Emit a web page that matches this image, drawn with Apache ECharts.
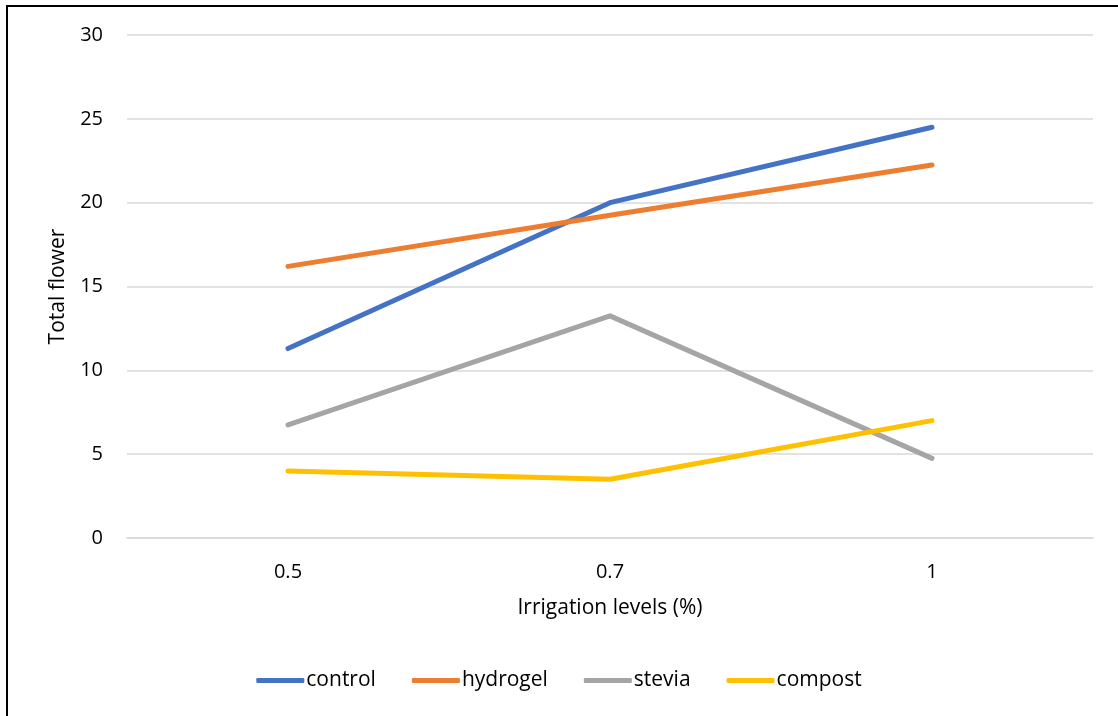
<!DOCTYPE html>
<html><head><meta charset="utf-8">
<script src="https://cdn.jsdelivr.net/npm/echarts@6/dist/echarts.min.js"></script>
<style>
html,body{margin:0;padding:0;background:#fff;}
#frame{position:absolute;left:6px;top:5px;width:1200px;height:800px;border-left:2px solid #000;border-top:2px solid #000;}
#chart{position:absolute;left:0;top:0;width:1118px;height:716px;}
</style></head>
<body>
<div id="frame"></div>
<div id="chart"></div>
<script>
const categories = ['0.5', '0.7', '1'];
const control = [11.3, 20.0, 24.5];
const hydrogel = [16.2, 19.25, 22.25];
const stevia = [6.75, 13.25, 4.75];
const compost = [4.0, 3.5, 7.0];
const seriesNames = ['control', 'hydrogel', 'stevia', 'compost'];
const seriesData = [control, hydrogel, stevia, compost];
const colors = ['#4472C4', '#ED7D31', '#A5A5A5', '#FFC000'];

const font = '"Open Sans", sans-serif';
const chart = echarts.init(document.getElementById('chart'));
chart.setOption({
  animation: false,
  color: colors,
  grid: {left: 127, right: 25, top: 35, bottom: 178, containLabel: false},
  legend: {
    bottom: 20, left: 'center',
    icon: 'roundRect', itemWidth: 48, itemHeight: 5, itemGap: 36,
    textStyle: {fontFamily: font, fontSize: 21, color: '#000', padding: [0, 0, 0, -3]},
    data: seriesNames
  },
  xAxis: {
    type: 'category', data: categories, boundaryGap: true,
    name: 'Irrigation levels (%)', nameLocation: 'middle', nameGap: 60,
    nameTextStyle: {fontFamily: font, fontSize: 21, color: '#000'},
    axisLine: {show: true, lineStyle: {color: '#d9d9d9', width: 1.5}},
    axisTick: {show: false},
    axisLabel: {fontFamily: font, fontSize: 20, color: '#000', margin: 24}
  },
  yAxis: {
    type: 'value', min: 0, max: 30, interval: 5,
    name: 'Total flower', nameLocation: 'middle', nameGap: 58, nameRotate: 90,
    nameTextStyle: {fontFamily: font, fontSize: 21, color: '#000'},
    axisLine: {show: false}, axisTick: {show: false},
    axisLabel: {fontFamily: font, fontSize: 20, color: '#000', margin: 24},
    splitLine: {lineStyle: {color: '#d9d9d9', width: 1.5}}
  },
  series: seriesNames.map((n, i) => ({
    name: n, type: 'line', data: seriesData[i],
    symbol: 'none', lineStyle: {width: 5, cap: 'round', join: 'round'}
  }))
});
</script>
</body></html>
